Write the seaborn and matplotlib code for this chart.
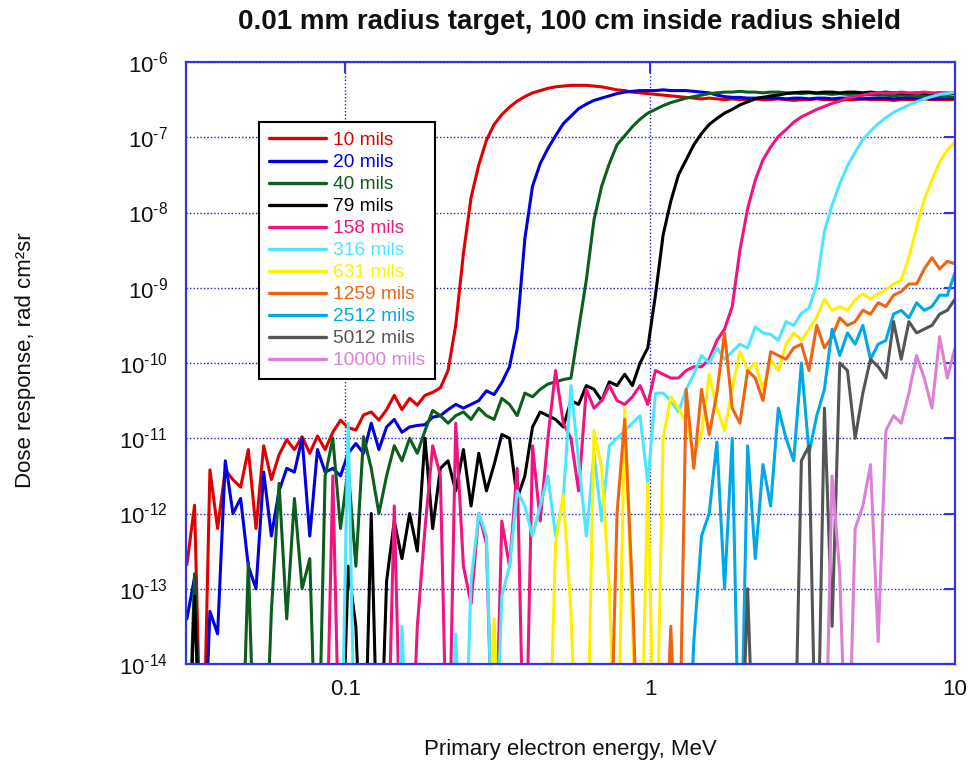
import numpy as np
import pandas as pd
import matplotlib
matplotlib.use("Agg")
import matplotlib.pyplot as plt
from matplotlib.lines import Line2D
from matplotlib.ticker import NullLocator, FixedLocator, FixedFormatter
import seaborn as sns

# ---------------- data ----------------
title = "0.01 mm radius target, 100 cm inside radius shield"
x_label = "Primary electron energy, MeV"
y_label = "Dose response, rad cm\u00b2sr"

shield_labels = ["10 mils", "20 mils", "40 mils", "79 mils", "158 mils", "316 mils",
                 "631 mils", "1259 mils", "2512 mils", "5012 mils", "10000 mils"]
shield_colors = ["#e00000", "#0000e0", "#0b5e1c", "#000000", "#f0147f", "#4de6ff",
                 "#fff000", "#f06410", "#00a8e6", "#555555", "#dc80d8"]

# energy bins, log10(MeV)
log_energy = [-1.5200, -1.4948, -1.4696, -1.4444, -1.4192, -1.3940, -1.3688, -1.3436, -1.3184, -1.2932,
              -1.2680, -1.2428, -1.2176, -1.1924, -1.1672, -1.1420, -1.1168, -1.0916, -1.0664, -1.0412,
              -1.0160, -0.9908, -0.9656, -0.9404, -0.9152, -0.8900, -0.8648, -0.8396, -0.8144, -0.7892,
              -0.7640, -0.7388, -0.7136, -0.6884, -0.6632, -0.6380, -0.6128, -0.5876, -0.5624, -0.5372,
              -0.5120, -0.4868, -0.4616, -0.4364, -0.4112, -0.3860, -0.3608, -0.3356, -0.3104, -0.2852,
              -0.2600, -0.2348, -0.2096, -0.1844, -0.1592, -0.1340, -0.1088, -0.0836, -0.0584, -0.0332,
              -0.0080, 0.0172, 0.0424, 0.0676, 0.0928, 0.1180, 0.1432, 0.1684, 0.1936, 0.2188,
              0.2440, 0.2692, 0.2944, 0.3196, 0.3448, 0.3700, 0.3952, 0.4204, 0.4456, 0.4708,
              0.4960, 0.5212, 0.5464, 0.5716, 0.5968, 0.6220, 0.6472, 0.6724, 0.6976, 0.7228,
              0.7480, 0.7732, 0.7984, 0.8236, 0.8488, 0.8740, 0.8992, 0.9244, 0.9496, 0.9748,
              1.0000]

# log10(dose); -16 marks a zero-response bin (below the axis floor)
log_dose_10 = [-12.68, -11.89, -16.0, -11.42, -12.2, -11.42, -11.55, -11.65, -11.15, -12.2,
               -11.1, -11.55, -11.22, -11.02, -11.15, -10.98, -11.2, -10.97, -11.15, -10.92,
               -10.76, -10.86, -10.89, -10.69, -10.65, -10.76, -10.62, -10.43, -10.62, -10.47,
               -10.56, -10.43, -10.39, -10.33, -10.1, -9.5, -8.55, -7.8, -7.37, -7.04,
               -6.83, -6.7, -6.6, -6.52, -6.46, -6.41, -6.38, -6.35, -6.33, -6.32,
               -6.31, -6.31, -6.31, -6.32, -6.33, -6.35, -6.37, -6.38, -6.4, -6.41,
               -6.42, -6.43, -6.44, -6.45, -6.46, -6.47, -6.48, -6.49, -6.48, -6.49,
               -6.5, -6.49, -6.5, -6.5, -6.49, -6.5, -6.5, -6.49, -6.5, -6.51,
               -6.5, -6.5, -6.49, -6.5, -6.5, -6.51, -6.5, -6.5, -6.49, -6.5,
               -6.5, -6.5, -6.51, -6.5, -6.5, -6.5, -6.49, -6.5, -6.5, -6.5, -6.5]
log_dose_20 = [-13.4, -12.85, -16.0, -13.3, -13.6, -11.3, -12.0, -11.8, -12.7, -13.0,
               -11.45, -12.3, -11.7, -11.4, -11.45, -11.0, -12.3, -11.15, -11.45, -11.4,
               -11.5, -11.2, -11.07, -11.2, -10.8, -11.15, -10.85, -10.75, -10.92, -10.85,
               -10.83, -10.82, -10.72, -10.7, -10.62, -10.55, -10.6, -10.55, -10.5, -10.37,
               -10.42, -10.26, -10.05, -9.55, -8.35, -7.65, -7.35, -7.15, -6.98, -6.82,
               -6.72, -6.62, -6.56, -6.51, -6.48, -6.45, -6.42, -6.4, -6.39, -6.38,
               -6.38, -6.38, -6.37, -6.38, -6.38, -6.38, -6.39, -6.4, -6.41, -6.44,
               -6.46, -6.47, -6.47, -6.48, -6.48, -6.47, -6.48, -6.48, -6.49, -6.48,
               -6.48, -6.49, -6.48, -6.48, -6.49, -6.48, -6.48, -6.48, -6.49, -6.48,
               -6.48, -6.48, -6.49, -6.48, -6.48, -6.48, -6.48, -6.49, -6.48, -6.48, -6.48]
log_dose_40 = [-16.0, -12.8, -16.0, -16.0, -16.0, -16.0, -16.0, -16.0, -12.65, -16.0,
               -16.0, -13.3, -11.6, -13.4, -11.8, -13.0, -12.6, -16.0, -11.5, -11.0,
               -12.2, -11.4, -12.7, -10.98, -11.4, -12.0, -11.5, -11.1, -11.3, -11.0,
               -11.2, -10.9, -10.63, -10.7, -10.8, -10.7, -10.65, -10.75, -10.6, -10.7,
               -10.75, -10.47, -10.55, -10.7, -10.4, -10.45, -10.35, -10.28, -10.25, -10.22,
               -10.2, -9.55, -8.9, -8.1, -7.65, -7.35, -7.1, -6.98, -6.86, -6.76,
               -6.68, -6.63, -6.58, -6.54, -6.51, -6.48, -6.46, -6.44, -6.42, -6.41,
               -6.4, -6.4, -6.39, -6.4, -6.4, -6.41, -6.4, -6.4, -6.41, -6.41,
               -6.42, -6.41, -6.42, -6.42, -6.43, -6.42, -6.43, -6.43, -6.44, -6.43,
               -6.44, -6.44, -6.45, -6.44, -6.45, -6.45, -6.46, -6.45, -6.46, -6.46, -6.47]
log_dose_79 = ([-16.0, -13.1] + [-16.0] * 19 +
               [-12.7, -13.5, -16.0, -12.0, -16.0, -12.9, -12.1, -12.6, -12.0,
                -12.5, -11.0, -12.2, -11.4, -11.3, -11.7, -11.15, -11.9, -11.2, -11.7,
                -11.35, -10.95, -11.0, -11.8, -11.5, -10.85, -10.65, -10.7, -10.75, -10.85,
                -10.5, -10.55, -10.3, -10.35, -10.5, -10.25, -10.3, -10.15, -10.3, -10.0,
                -9.8, -9.1, -8.3, -7.85, -7.5, -7.3, -7.1, -6.95, -6.83, -6.75,
                -6.68, -6.63, -6.57, -6.53, -6.49, -6.47, -6.45, -6.44, -6.42, -6.41,
                -6.4, -6.4, -6.41, -6.4, -6.4, -6.41, -6.4, -6.4, -6.41, -6.4,
                -6.41, -6.4, -6.41, -6.41, -6.42, -6.41, -6.42, -6.42, -6.41, -6.42, -6.42])
log_dose_158 = ([-16.0] * 19 + [-11.5] + [-16.0] * 7 +
                [-11.9, -16.0, -16.0,
                 -13.5, -12.2, -11.1, -11.5, -16.0, -10.8, -12.7, -13.2, -12.0, -12.4,
                 -16.0, -12.1, -12.7, -11.4, -16.0, -11.1, -12.1, -11.0, -10.1, -10.8,
                 -11.0, -11.7, -10.35, -10.6, -10.5, -10.3, -10.5, -10.55, -10.45, -10.3,
                 -10.55, -10.1, -10.15, -10.2, -10.2, -10.1, -10.05, -10.05, -9.95, -9.7,
                 -9.55, -9.25, -8.5, -7.95, -7.57, -7.3, -7.13, -6.99, -6.9, -6.8,
                 -6.73, -6.68, -6.63, -6.59, -6.55, -6.52, -6.48, -6.46, -6.44, -6.42,
                 -6.41, -6.41, -6.41, -6.4, -6.41, -6.41, -6.4, -6.41, -6.41, -6.41, -6.41])
log_dose_316 = ([-16.0] * 21 + [-10.8] + [-16.0] * 6 +
                [-13.5, -16.0,
                 -16.0, -16.0, -16.0, -16.0, -16.0, -13.6, -16.0, -12.9, -12.0, -12.3,
                 -16.0, -13.1, -12.7, -11.7, -11.9, -12.3, -11.9, -11.5, -12.3, -11.8,
                 -10.3, -11.3, -12.3, -11.2, -12.1, -11.1, -11.0, -10.9, -10.8, -10.7,
                 -11.6, -10.4, -10.4, -10.5, -10.65, -10.35, -10.15, -9.9, -10.0, -9.8,
                 -9.95, -9.85, -9.75, -9.8, -9.52, -9.6, -9.62, -9.7, -9.45, -9.5,
                 -9.34, -9.27, -8.95, -8.25, -7.9, -7.62, -7.38, -7.2, -7.03, -6.92,
                 -6.82, -6.74, -6.67, -6.62, -6.57, -6.53, -6.49, -6.46, -6.43, -6.42, -6.4])
log_dose_631 = ([-16.0] * 40 + [-13.4] + [-16.0] * 7 +
                [-12.4, -11.75,
                 -13.3, -16.0, -16.0, -10.9, -11.4, -13.0, -16.0, -10.6, -13.5, -16.0,
                 -11.6, -16.0, -11.0, -10.45, -10.6, -10.8, -11.2, -10.95, -10.15, -10.6,
                 -10.9, -10.35, -9.85, -10.1, -10.0, -10.35, -9.96, -10.1, -9.75, -9.6,
                 -9.7, -9.55, -9.39, -9.15, -9.3, -9.25, -9.3, -9.16, -9.08, -9.15,
                 -9.08, -9.03, -8.95, -8.9, -8.6, -8.2, -7.83, -7.57, -7.33, -7.17, -7.06])
log_dose_1259 = ([-16.0] * 56 +
                 [-12.0, -10.75, -13.0, -16.0,
                  -16.0, -16.0, -16.0, -13.5, -16.0, -10.35, -11.4, -10.35, -10.95, -10.4,
                  -9.6, -10.6, -10.8, -10.1, -10.2, -10.5, -9.85, -9.9, -9.95, -9.8,
                  -9.75, -10.1, -9.5, -9.8, -9.65, -9.4, -9.5, -9.45, -9.3, -9.35,
                  -9.2, -9.25, -9.1, -9.05, -8.95, -8.95, -8.75, -8.6, -8.75, -8.65, -8.68])
log_dose_2512 = ([-16.0] * 66 +
                 [-13.7, -12.3, -12.0, -11.05,
                  -13.0, -11.0, -16.0, -11.1, -12.6, -11.35, -11.9, -10.6, -11.0, -11.3,
                  -10.0, -11.2, -10.7, -10.35, -9.55, -9.9, -9.6, -9.75, -9.5, -9.95,
                  -9.75, -9.7, -9.35, -9.3, -9.4, -9.2, -9.3, -9.25, -9.1, -9.1, -8.8])
log_dose_5012 = ([-16.0] * 73 +
                 [-13.0, -16.0, -16.0, -16.0, -16.0, -16.0, -16.0,
                  -11.3, -11.1, -16.0, -10.6, -13.5, -10.0, -10.1, -11.0, -10.4, -9.95,
                  -10.05, -10.2, -9.45, -9.95, -9.45, -9.6, -9.55, -9.5, -9.35, -9.3, -9.15])
log_dose_10000 = ([-16.0] * 84 +
                  [-11.5, -12.8, -16.0, -12.2, -11.9, -11.35,
                   -13.7, -10.9, -10.7, -10.8, -10.4, -9.9, -10.2, -10.6, -9.65, -10.2, -9.8])

all_log_doses = [log_dose_10, log_dose_20, log_dose_40, log_dose_79, log_dose_158, log_dose_316,
                 log_dose_631, log_dose_1259, log_dose_2512, log_dose_5012, log_dose_10000]

# ---------------- build long table ----------------
frames = []
for lab, ld in zip(shield_labels, all_log_doses):
    frames.append(pd.DataFrame({
        "energy": 10.0 ** np.asarray(log_energy),
        "dose": 10.0 ** np.asarray(ld),
        "shield": lab,
    }))
df = pd.concat(frames, ignore_index=True)

# ---------------- style ----------------
sns.set_style("white")
plt.rcParams["font.family"] = ["Liberation Sans", "DejaVu Sans"]
plt.rcParams["mathtext.fontset"] = "custom"
plt.rcParams["mathtext.rm"] = "Liberation Sans"
plt.rcParams["mathtext.it"] = "Liberation Sans"
plt.rcParams["mathtext.default"] = "regular"

W, H = 969, 773
fig = plt.figure(figsize=(W / 100, H / 100), dpi=100)
ax = fig.add_axes([186 / W, 1 - 664 / H, (955 - 186) / W, (664 - 62) / H])
ax.set_xscale("log")
ax.set_yscale("log")

sns.lineplot(data=df, x="energy", y="dose", hue="shield", hue_order=shield_labels,
             palette=dict(zip(shield_labels, shield_colors)), estimator=None, sort=False,
             linewidth=2.2, legend=False, ax=ax)

ax.set_xlim(0.03, 10)
ax.set_ylim(1e-14, 1e-6)

axis_blue = "#3434e6"
grid_blue = "#1f1fe0"

xt = [0.1, 1, 10]
ax.xaxis.set_major_locator(FixedLocator(xt))
ax.xaxis.set_major_formatter(FixedFormatter(["0.1", "1", "10"]))
ax.xaxis.set_minor_locator(NullLocator())
yt = [10.0 ** e for e in range(-14, -5)]
ax.yaxis.set_major_locator(FixedLocator(yt))
ax.yaxis.set_major_formatter(FixedFormatter([r"$10^{\text{-}%d}$" % (-e) for e in range(-14, -5)]))
ax.yaxis.set_minor_locator(NullLocator())

ax.tick_params(which="major", direction="in", length=8, width=1.5, color=axis_blue,
               top=True, right=True, labelsize=16, labelcolor="#111111")
ax.tick_params(axis="x", pad=11)
ax.tick_params(axis="y", pad=13)

ax.grid(True, which="major", color=grid_blue, linestyle=(0, (1, 1.5)), linewidth=1.0)
for sp in ax.spines.values():
    sp.set_color(axis_blue)
    sp.set_linewidth(1.6)
    sp.set_visible(True)

ax.set_xlabel(x_label, fontsize=16, color="#111111")
ax.set_ylabel(y_label, fontsize=16, color="#111111")
ax.xaxis.set_label_coords(0.5, -0.125)
ax.yaxis.set_label_coords(-0.195, 0.505)

fig.text(570 / W, 1 - 22 / H, title, ha="center", va="center", fontsize=20,
         fontweight="bold", color="#111111")

handles = [Line2D([0], [0], color=c, lw=2.4) for c in shield_colors]
leg = ax.legend(handles, shield_labels, loc="upper left", bbox_to_anchor=(0.095, 0.90),
                borderaxespad=0, fontsize=13.8, frameon=True, fancybox=False,
                edgecolor="black", framealpha=1, borderpad=0.5, labelspacing=0.24,
                handlelength=3.0, handletextpad=0.35)
leg.get_frame().set_linewidth(1.5)
for t, c in zip(leg.get_texts(), shield_colors):
    t.set_color(c)

fig.savefig("out.png", dpi=100)
